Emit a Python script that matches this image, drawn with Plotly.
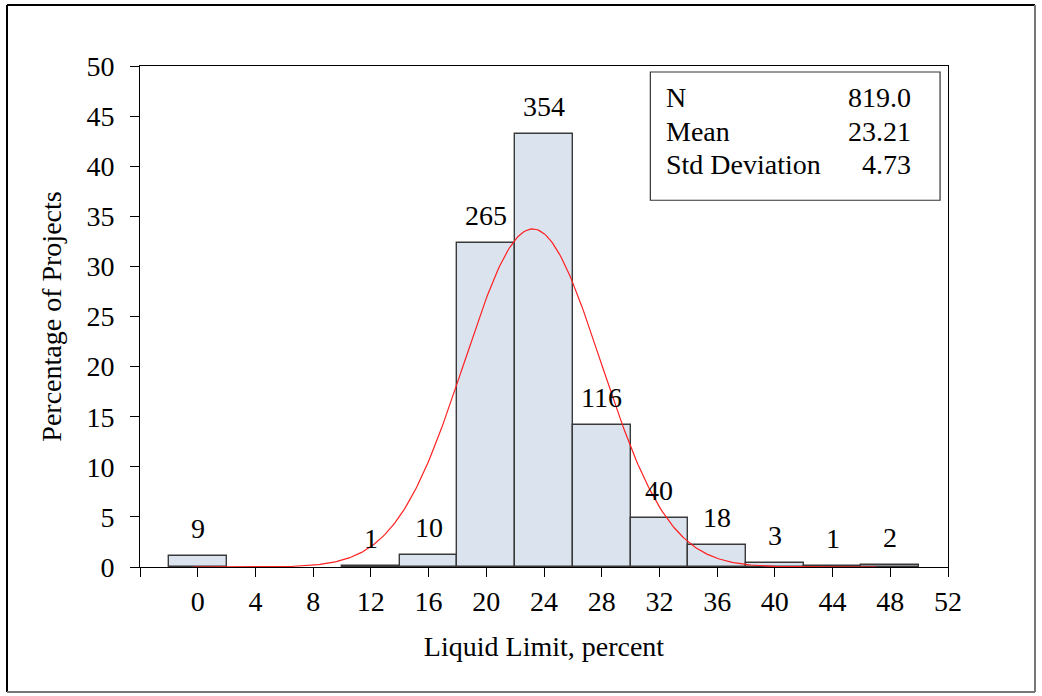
import numpy as np
import plotly.graph_objects as go

# ---- data ----
bin_centers = [0, 12, 16, 20, 24, 28, 32, 36, 40, 44, 48]
counts = [9, 1, 10, 265, 354, 116, 40, 18, 3, 1, 2]
stat_labels = ["N", "Mean", "Std Deviation"]
stat_values = ["819.0", "23.21", "4.73"]
n_total = 819
mean_val = 23.21
std_val = 4.73
bin_width = 4
curve_range = [-0.3, 47]
x_ticks = [-4, 0, 4, 8, 12, 16, 20, 24, 28, 32, 36, 40, 44, 48, 52]
x_tick_text = [""] + [str(v) for v in x_ticks[1:]]
y_ticks = [0, 5, 10, 15, 20, 25, 30, 35, 40, 45, 50]

pct = [100.0 * c / n_total for c in counts]

xc = np.linspace(curve_range[0], curve_range[1], 400)
yc = 100.0 * bin_width * np.exp(-0.5 * ((xc - mean_val) / std_val) ** 2) / (std_val * np.sqrt(2 * np.pi))

FONT = "Liberation Serif, Times New Roman, serif"
FS = 28

fig = go.Figure()
fig.add_trace(go.Bar(
    x=bin_centers, y=pct, width=[bin_width] * len(bin_centers),
    marker=dict(color="#dbe3ef", line=dict(color="#3a3a3a", width=1.4)),
    showlegend=False, hoverinfo="skip",
))
fig.add_trace(go.Scatter(
    x=xc, y=yc, mode="lines", line=dict(color="#ff2020", width=1.2),
    showlegend=False, hoverinfo="skip",
))

for xv, yv, c in zip(bin_centers, pct, counts):
    fig.add_annotation(x=xv, y=yv, text=str(c), showarrow=False,
                       yanchor="bottom", yshift=10,
                       font=dict(family=FONT, size=FS, color="black"))

# stats box
fig.add_shape(type="rect", xref="x", yref="y", x0=31.37, x1=51.45, y0=36.6, y1=49.4,
              line=dict(color="#333333", width=1.2), fillcolor="white", layer="above")
row_y = [46.9, 43.5, 40.2]
for lab, val, ry in zip(stat_labels, stat_values, row_y):
    fig.add_annotation(x=32.3, y=ry, text=lab, showarrow=False, xanchor="left",
                       font=dict(family=FONT, size=FS, color="black"))
    fig.add_annotation(x=49.6, y=ry, text=val, showarrow=False, xanchor="right",
                       font=dict(family=FONT, size=FS, color="black"))

# outer frame
def px_x(p):
    return (p - 140) / 808.0
def px_y(p):
    return (567 - p) / 501.0

fx0, fx1, fy0, fy1 = px_x(7), px_x(1035), px_y(692), px_y(5)
fig.add_shape(type="line", xref="paper", yref="paper", x0=fx0, x1=fx1, y0=fy1, y1=fy1,
              line=dict(color="black", width=2))
fig.add_shape(type="line", xref="paper", yref="paper", x0=fx0, x1=fx0, y0=fy0, y1=fy1,
              line=dict(color="black", width=2))
fig.add_shape(type="line", xref="paper", yref="paper", x0=fx1, x1=fx1, y0=fy0, y1=fy1,
              line=dict(color="#777777", width=2))
fig.add_shape(type="line", xref="paper", yref="paper", x0=fx0, x1=fx1, y0=fy0, y1=fy0,
              line=dict(color="#777777", width=2))

fig.update_layout(
    width=1042, height=696,
    margin=dict(l=140, r=94, t=66, b=129),
    paper_bgcolor="white", plot_bgcolor="white",
    bargap=0,
    font=dict(family=FONT, size=FS, color="black"),
    xaxis=dict(range=[-4, 52], tickvals=x_ticks, ticktext=x_tick_text,
               ticks="outside", ticklen=9, tickwidth=1, tickcolor="black",
               showline=True, linecolor="black", linewidth=1, mirror=True,
               showgrid=False, zeroline=False,
               title=dict(text="Liquid Limit, percent", standoff=20,
                          font=dict(family=FONT, size=FS)),
               tickfont=dict(family=FONT, size=FS)),
    yaxis=dict(range=[0, 50], tickvals=y_ticks,
               ticks="outside", ticklen=9, tickwidth=1, tickcolor="black",
               ticklabelstandoff=10,
               showline=True, linecolor="black", linewidth=1, mirror=True,
               showgrid=False, zeroline=False,
               title=dict(text="Percentage of Projects", standoff=16,
                          font=dict(family=FONT, size=FS)),
               tickfont=dict(family=FONT, size=FS)),
)

fig.write_html("out.html")
